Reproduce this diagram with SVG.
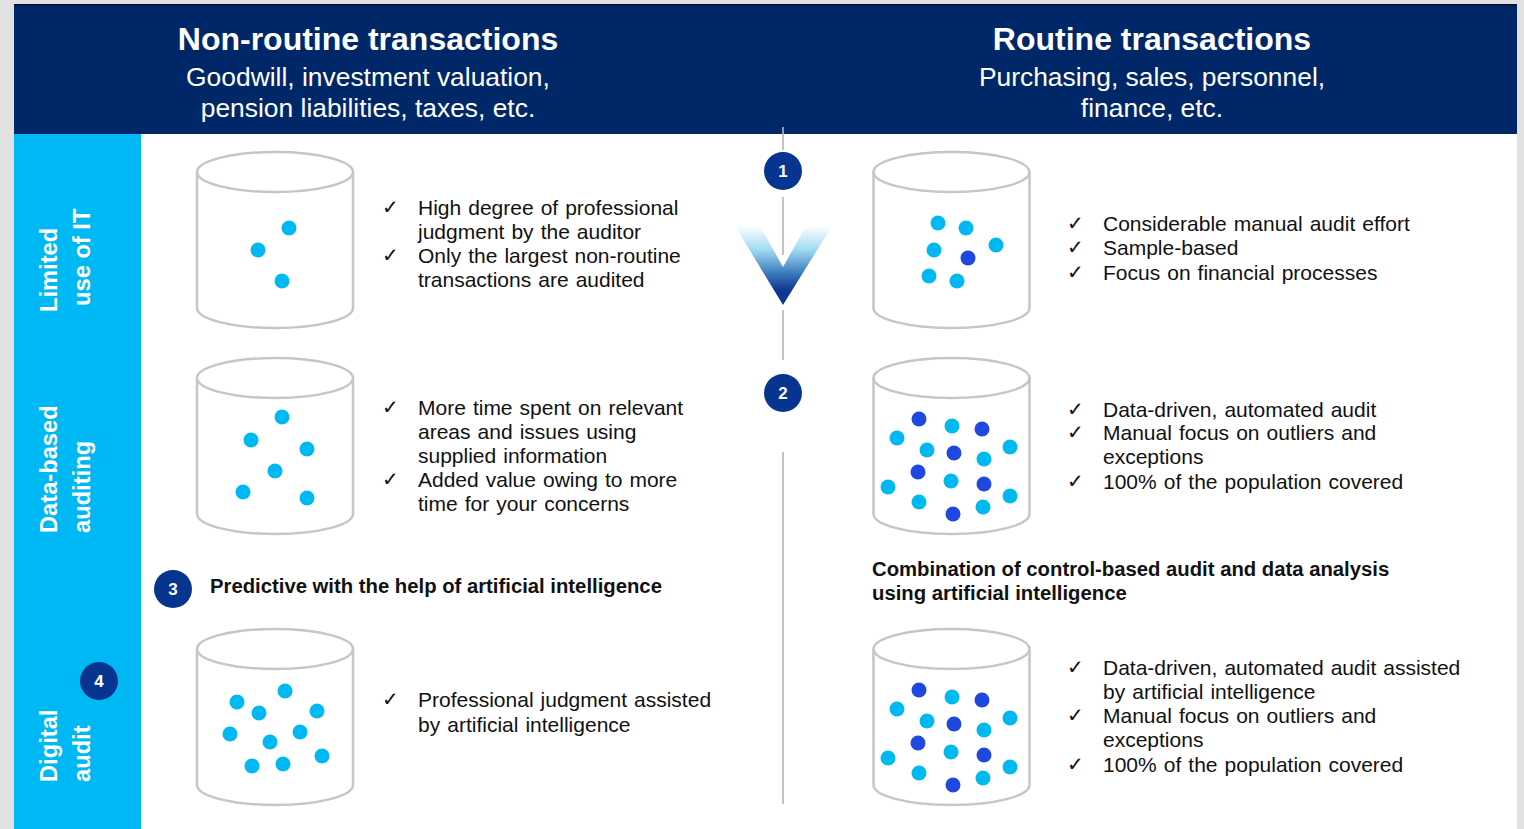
<svg xmlns="http://www.w3.org/2000/svg" xmlns:xlink="http://www.w3.org/1999/xlink" width="1524" height="829" viewBox="0 0 1524 829">
<style>
.hdb{font-family:"Liberation Sans",Arial,sans-serif;font-weight:bold;font-size:32px;fill:#fff;text-anchor:middle}
.hdr{font-family:"Liberation Sans",Arial,sans-serif;font-size:26.4px;fill:#fff;text-anchor:middle}
.side{font-family:"Liberation Sans",Arial,sans-serif;font-weight:bold;font-size:23.7px;fill:#fff}
.bt{font-family:"Liberation Sans",Arial,sans-serif;font-size:21px;fill:#111;word-spacing:1.2px}
.ck{font-family:"DejaVu Sans",sans-serif;font-size:20px;fill:#111}
.bold{font-family:"Liberation Sans",Arial,sans-serif;font-weight:bold;font-size:20.3px;fill:#111}
.num{font-family:"Liberation Sans",Arial,sans-serif;font-weight:bold;font-size:17px;fill:#fff;text-anchor:middle}
.ncirc{fill:#063590}
.cyl{fill:none;stroke:#c6c6c6;stroke-width:2.5}
.c{fill:#00b9f2}
.d{fill:#1f48e0}
.vline{stroke:#b4b4b4;stroke-width:1.6}
</style>
<defs>
<g id="cylinder">
<path class="cyl" d="M-78,0 V136 A78,20 0 0 0 78,136 V0"/>
<ellipse class="cyl" cx="0" cy="0" rx="78" ry="20"/>
</g>
<linearGradient id="chev" x1="0" y1="0" x2="0" y2="1">
<stop offset="0" stop-color="#ffffff"/>
<stop offset="0.3" stop-color="#9ad8f0"/>
<stop offset="0.62" stop-color="#2a6db4"/>
<stop offset="0.8" stop-color="#062f88"/>
<stop offset="1" stop-color="#002a84"/>
</linearGradient>
</defs>
<rect x="0" y="0" width="1524" height="829" fill="#e2e2e2"/>
<rect x="14" y="4" width="1503" height="825" fill="#ffffff"/>
<g id="header">
<rect x="14" y="4" width="1503" height="130" fill="#002768"/>
<rect x="14" y="4" width="1503" height="1.5" fill="#0a0f24"/>
<text class="hdb" x="368" y="50">Non-routine transactions</text>
<text class="hdr" x="368" y="86">Goodwill, investment valuation,</text>
<text class="hdr" x="368" y="117">pension liabilities, taxes, etc.</text>
<text class="hdb" x="1152" y="50">Routine transactions</text>
<text class="hdr" x="1152" y="86">Purchasing, sales, personnel,</text>
<text class="hdr" x="1152" y="117">finance, etc.</text>
</g>
<g id="sidebar">
<rect x="14" y="134" width="127" height="695" fill="#00b8f4"/>
<text class="side" transform="translate(57,312) rotate(-90)">Limited</text>
<text class="side" transform="translate(90,306) rotate(-90)">use of IT</text>
<text class="side" transform="translate(57,533) rotate(-90)">Data-based</text>
<text class="side" transform="translate(90,533) rotate(-90)">auditing</text>
<text class="side" transform="translate(57,782) rotate(-90)">Digital</text>
<text class="side" transform="translate(90,782) rotate(-90)">audit</text>
</g>
<g id="connectors">
<line class="vline" x1="783" y1="127" x2="783" y2="150"/>
<line class="vline" x1="783" y1="197" x2="783" y2="255"/>
<line class="vline" x1="783" y1="310" x2="783" y2="360"/>
<line class="vline" x1="783" y1="452" x2="783" y2="804"/>
</g>
<g id="chevron">
<polygon points="735,226 760,226 783,267 806,226 832,226 783,305" fill="url(#chev)" fill-opacity="0.95"/>
</g>
<g id="badge1"><circle class="ncirc" cx="783" cy="171" r="19"/><text class="num" x="783" y="177">1</text></g>
<g id="badge2"><circle class="ncirc" cx="783" cy="393" r="19"/><text class="num" x="783" y="399">2</text></g>
<g id="badge3"><circle class="ncirc" cx="173" cy="589" r="19"/><text class="num" x="173" y="595">3</text></g>
<g id="badge4"><circle class="ncirc" cx="99" cy="681" r="19"/><text class="num" x="99" y="687">4</text></g>

<g id="cyl-left-1">
<use xlink:href="#cylinder" href="#cylinder" transform="translate(275,172)"/>
<circle class="c" cx="289" cy="228" r="7.5"/>
<circle class="c" cx="258" cy="250" r="7.5"/>
<circle class="c" cx="282" cy="281" r="7.5"/>
</g>
<g id="text-left-1">
<text class="ck" x="382" y="214">✓</text>
<text class="bt" x="418" y="215">High degree of professional</text>
<text class="bt" x="418" y="239">judgment by the auditor</text>
<text class="ck" x="382" y="262">✓</text>
<text class="bt" x="418" y="263">Only the largest non-routine</text>
<text class="bt" x="418" y="287">transactions are audited</text>
</g>

<g id="cyl-right-1">
<use xlink:href="#cylinder" href="#cylinder" transform="translate(951.5,172)"/>
<circle class="c" cx="938" cy="223" r="7.5"/>
<circle class="c" cx="966" cy="228" r="7.5"/>
<circle class="c" cx="996" cy="245" r="7.5"/>
<circle class="c" cx="934" cy="250" r="7.5"/>
<circle class="d" cx="968" cy="258" r="7.5"/>
<circle class="c" cx="929" cy="276" r="7.5"/>
<circle class="c" cx="957" cy="281" r="7.5"/>
</g>
<g id="text-right-1">
<text class="ck" x="1067" y="230">✓</text>
<text class="bt" x="1103" y="231">Considerable manual audit effort</text>
<text class="ck" x="1067" y="254">✓</text>
<text class="bt" x="1103" y="255">Sample-based</text>
<text class="ck" x="1067" y="279">✓</text>
<text class="bt" x="1103" y="280">Focus on financial processes</text>
</g>

<g id="cyl-left-2">
<use xlink:href="#cylinder" href="#cylinder" transform="translate(275,378)"/>
<circle class="c" cx="282" cy="417" r="7.5"/>
<circle class="c" cx="251" cy="440" r="7.5"/>
<circle class="c" cx="307" cy="449" r="7.5"/>
<circle class="c" cx="275" cy="471" r="7.5"/>
<circle class="c" cx="243" cy="492" r="7.5"/>
<circle class="c" cx="307" cy="498" r="7.5"/>
</g>
<g id="text-left-2">
<text class="ck" x="382" y="414">✓</text>
<text class="bt" x="418" y="415">More time spent on relevant</text>
<text class="bt" x="418" y="439">areas and issues using</text>
<text class="bt" x="418" y="463">supplied information</text>
<text class="ck" x="382" y="486">✓</text>
<text class="bt" x="418" y="487">Added value owing to more</text>
<text class="bt" x="418" y="511">time for your concerns</text>
</g>

<g id="cyl-right-2">
<use xlink:href="#cylinder" href="#cylinder" transform="translate(951.5,378)"/>
<circle class="d" cx="919" cy="419" r="7.5"/>
<circle class="c" cx="952" cy="426" r="7.5"/>
<circle class="d" cx="982" cy="429" r="7.5"/>
<circle class="c" cx="897" cy="438" r="7.5"/>
<circle class="c" cx="1010" cy="447" r="7.5"/>
<circle class="c" cx="927" cy="450" r="7.5"/>
<circle class="d" cx="954" cy="453" r="7.5"/>
<circle class="c" cx="984" cy="459" r="7.5"/>
<circle class="d" cx="918" cy="472" r="7.5"/>
<circle class="c" cx="951" cy="481" r="7.5"/>
<circle class="d" cx="984" cy="484" r="7.5"/>
<circle class="c" cx="888" cy="487" r="7.5"/>
<circle class="c" cx="1010" cy="496" r="7.5"/>
<circle class="c" cx="919" cy="502" r="7.5"/>
<circle class="c" cx="983" cy="507" r="7.5"/>
<circle class="d" cx="953" cy="514" r="7.5"/>
</g>
<g id="text-right-2">
<text class="ck" x="1067" y="416">✓</text>
<text class="bt" x="1103" y="417">Data-driven, automated audit</text>
<text class="ck" x="1067" y="439">✓</text>
<text class="bt" x="1103" y="440">Manual focus on outliers and</text>
<text class="bt" x="1103" y="464">exceptions</text>
<text class="ck" x="1067" y="488">✓</text>
<text class="bt" x="1103" y="489">100% of the population covered</text>
</g>

<g id="label-predictive">
<text class="bold" x="210" y="593">Predictive with the help of artificial intelligence</text>
</g>
<g id="label-combination">
<text class="bold" x="872" y="576">Combination of control-based audit and data analysis</text>
<text class="bold" x="872" y="600">using artificial intelligence</text>
</g>

<g id="cyl-left-3">
<use xlink:href="#cylinder" href="#cylinder" transform="translate(275,649)"/>
<circle class="c" cx="285" cy="691" r="7.5"/>
<circle class="c" cx="237" cy="702" r="7.5"/>
<circle class="c" cx="259" cy="713" r="7.5"/>
<circle class="c" cx="317" cy="711" r="7.5"/>
<circle class="c" cx="230" cy="734" r="7.5"/>
<circle class="c" cx="300" cy="732" r="7.5"/>
<circle class="c" cx="270" cy="742" r="7.5"/>
<circle class="c" cx="322" cy="756" r="7.5"/>
<circle class="c" cx="252" cy="766" r="7.5"/>
<circle class="c" cx="283" cy="764" r="7.5"/>
</g>
<g id="text-left-3">
<text class="ck" x="382" y="706">✓</text>
<text class="bt" x="418" y="707">Professional judgment assisted</text>
<text class="bt" x="418" y="732">by artificial intelligence</text>
</g>

<g id="cyl-right-3">
<use xlink:href="#cylinder" href="#cylinder" transform="translate(951.5,649)"/>
<circle class="d" cx="919" cy="690" r="7.5"/>
<circle class="c" cx="952" cy="697" r="7.5"/>
<circle class="d" cx="982" cy="700" r="7.5"/>
<circle class="c" cx="897" cy="709" r="7.5"/>
<circle class="c" cx="1010" cy="718" r="7.5"/>
<circle class="c" cx="927" cy="721" r="7.5"/>
<circle class="d" cx="954" cy="724" r="7.5"/>
<circle class="c" cx="984" cy="730" r="7.5"/>
<circle class="d" cx="918" cy="743" r="7.5"/>
<circle class="c" cx="951" cy="752" r="7.5"/>
<circle class="d" cx="984" cy="755" r="7.5"/>
<circle class="c" cx="888" cy="758" r="7.5"/>
<circle class="c" cx="1010" cy="767" r="7.5"/>
<circle class="c" cx="919" cy="773" r="7.5"/>
<circle class="c" cx="983" cy="778" r="7.5"/>
<circle class="d" cx="953" cy="785" r="7.5"/>
</g>
<g id="text-right-3">
<text class="ck" x="1067" y="674">✓</text>
<text class="bt" x="1103" y="675">Data-driven, automated audit assisted</text>
<text class="bt" x="1103" y="699">by artificial intelligence</text>
<text class="ck" x="1067" y="722">✓</text>
<text class="bt" x="1103" y="723">Manual focus on outliers and</text>
<text class="bt" x="1103" y="747">exceptions</text>
<text class="ck" x="1067" y="771">✓</text>
<text class="bt" x="1103" y="772">100% of the population covered</text>
</g>
</svg>
